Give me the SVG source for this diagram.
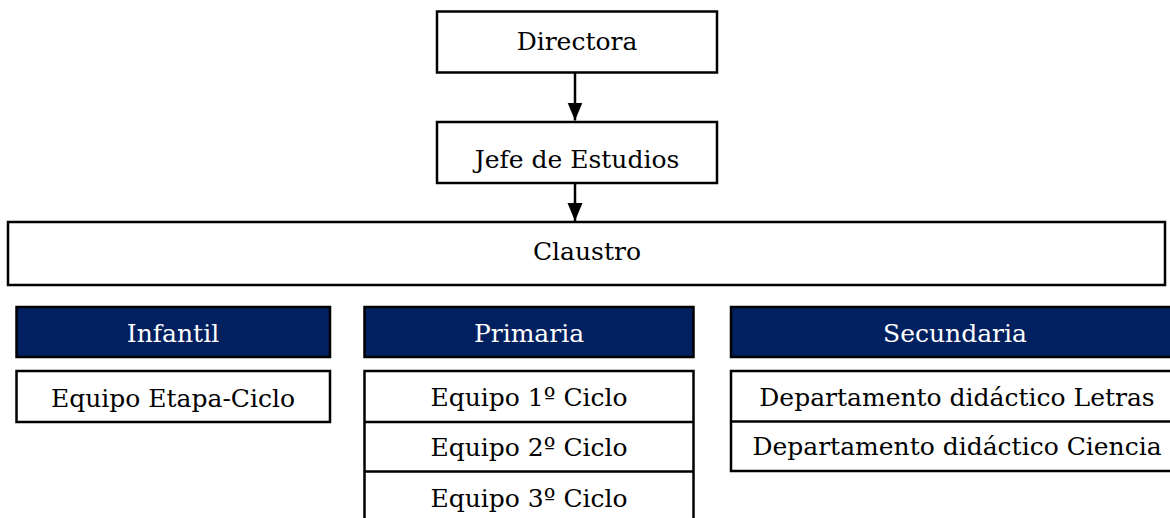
<svg xmlns="http://www.w3.org/2000/svg" width="1170" height="518" viewBox="0 0 1170 518">
<style>
text{font-family:"DejaVu Serif","Liberation Serif",serif;font-size:25px;text-anchor:middle;fill:#000}
.box{fill:#fff;stroke:#000;stroke-width:2.5}
.hdr{fill:#002060;stroke:#000;stroke-width:2.5}
.hdr-t{fill:#fff}
.div{stroke:#000;stroke-width:2.5}
.conn{stroke:#000;stroke-width:2.5;fill:none}
</style>
<defs>
<marker id="ah" markerUnits="userSpaceOnUse" markerWidth="19" markerHeight="16" refX="18" refY="7.5" orient="auto">
<path d="M0,0 L18,7.5 L0,15 Z" fill="#000"/>
</marker>
</defs>
<rect width="1170" height="518" fill="#fff"/>
<g id="connectors">
<line class="conn" x1="575" y1="72" x2="575" y2="120.5" marker-end="url(#ah)"/>
<line class="conn" x1="575" y1="183" x2="575" y2="221" marker-end="url(#ah)"/>
</g>
<g id="directora">
<rect class="box" x="437" y="11.5" width="280" height="61"/>
<text x="577" y="49.5">Directora</text>
</g>
<g id="jefe">
<rect class="box" x="437" y="122" width="280" height="61"/>
<text x="577" y="168">Jefe de Estudios</text>
</g>
<g id="claustro">
<rect class="box" x="8" y="222" width="1157" height="63"/>
<text x="587" y="260">Claustro</text>
</g>
<g id="infantil">
<rect class="hdr" x="16.5" y="307" width="313.5" height="50"/>
<text class="hdr-t" x="173" y="341.5">Infantil</text>
</g>
<g id="equipo-etapa">
<rect class="box" x="16.5" y="371" width="313.5" height="51"/>
<text x="173" y="406.5">Equipo Etapa-Ciclo</text>
</g>
<g id="primaria">
<rect class="hdr" x="364.5" y="307" width="329" height="50"/>
<text class="hdr-t" x="529" y="341.5">Primaria</text>
</g>
<g id="equipos-primaria">
<rect class="box" x="364.5" y="371" width="329" height="160"/>
<line class="div" x1="364.5" y1="422" x2="693.5" y2="422"/>
<line class="div" x1="364.5" y1="471.5" x2="693.5" y2="471.5"/>
<text x="529" y="406">Equipo 1º Ciclo</text>
<text x="529" y="455.5">Equipo 2º Ciclo</text>
<text x="529" y="506.5">Equipo 3º Ciclo</text>
</g>
<g id="secundaria">
<rect class="hdr" x="731" y="307" width="450" height="50"/>
<text class="hdr-t" x="955" y="341.5">Secundaria</text>
</g>
<g id="departamentos">
<rect class="box" x="731" y="371" width="450" height="100"/>
<line class="div" x1="731" y1="421.5" x2="1181" y2="421.5"/>
<text x="957" y="405.5">Departamento didáctico Letras</text>
<text x="957" y="455">Departamento didáctico Ciencia</text>
</g>
</svg>
